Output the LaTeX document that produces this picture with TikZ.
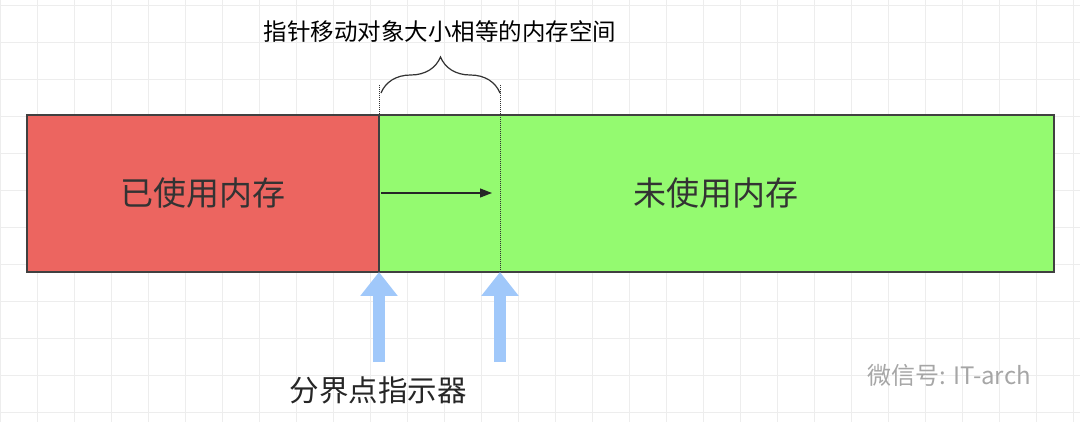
\documentclass[tikz,border=0pt]{standalone}
\usepackage{fontspec}
\setmainfont{Noto Sans CJK SC}
\usetikzlibrary{arrows.meta,decorations.pathreplacing}
\begin{document}
\begin{tikzpicture}[x=1pt,y=-1pt, line width=1pt,
    block/.style={draw=black!75, line width=1.2pt, minimum height=157pt, inner sep=0pt, outer sep=0pt},
    guide/.style={densely dotted, line width=1pt, black!80},
    marker/.style={line width=12pt, draw=pointblue, -{Triangle[width=36pt,length=24pt]}}
  ]
    % Define colors
    \definecolor{usedcolor}{RGB}{236, 101, 96}
    \definecolor{freecolor}{RGB}{148, 250, 112}
    \definecolor{pointblue}{RGB}{160, 200, 250}

    \useasboundingbox (0,0) rectangle (1080,422);
    \foreach \gx in {0,37,...,1080} \draw[black!7, line width=0.8pt] (\gx,0) -- (\gx,422);
    \foreach \gy in {5,42,...,422} \draw[black!7, line width=0.8pt] (0,\gy) -- (1080,\gy);

    \node[block, fill=usedcolor, minimum width=352pt, anchor=north west] (used) at (27,115) {};
    \node[block, fill=freecolor, minimum width=675pt, anchor=north west] (free) at (379,115) {};
    \node[font=\fontsize{33}{35}\selectfont, text=black!80] (usedtext) at (203,193) {已使用内存};
    \node[font=\fontsize{33}{35}\selectfont, text=black!80] (freetext) at (716,193) {未使用内存};

    \coordinate (top) at (379,85);
    \coordinate (next) at (500,85);
    \coordinate (nextbottom) at (500,272);
    \draw[guide] (top) -- (used.north east);
    \draw[guide] (next) -- (nextbottom);
    \draw[black!80, line width=1.2pt, decorate, decoration={brace, amplitude=36pt, aspect=0.5}]
        (381,93) -- (500,93);
    \node[font=\fontsize{23.5}{25}\selectfont, text=black] (sizetext) at (440,32) {指针移动对象大小相等的内存空间};

    \coordinate (from) at (381,193);
    \coordinate (to) at (492,193);
    \draw[black!85, line width=1.2pt, -{Triangle[width=9pt,length=12pt]}] (from) -- (to);

    \coordinate (tailA) at (379,362);
    \coordinate (tailB) at (500,362);
    \draw[marker] (tailA) -- (used.south east);
    \draw[marker] (tailB) -- (nextbottom);
    \node[font=\fontsize{29.5}{31}\selectfont, text=black!85] (pointer) at (378,390) {分界点指示器};

    \node[font=\fontsize{24}{26}\selectfont, text=black!35, anchor=west] (mark) at (864,375) {微信号: IT-arch};
\end{tikzpicture}
\end{document}
